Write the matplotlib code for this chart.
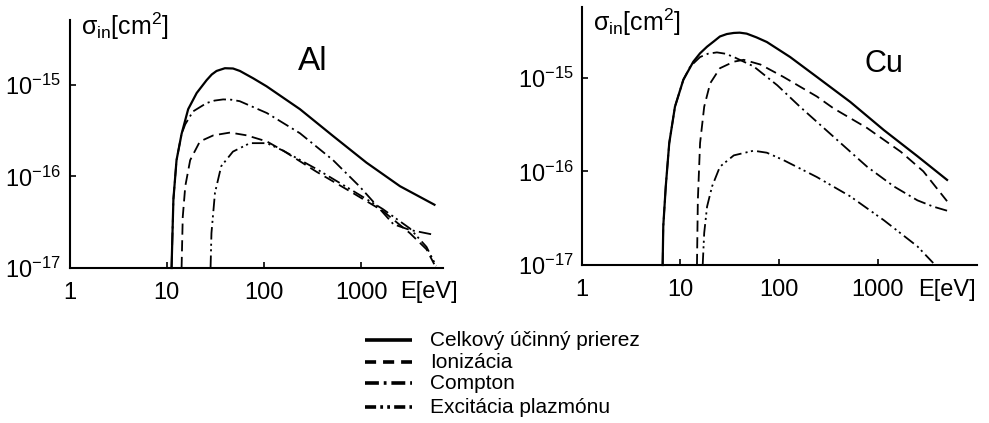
import numpy as np
import matplotlib
matplotlib.use("Agg")
import matplotlib.pyplot as plt
from matplotlib.lines import Line2D

plt.rcParams["font.family"] = ["Liberation Sans", "DejaVu Sans"]
plt.rcParams["mathtext.fontset"] = "custom"
plt.rcParams["mathtext.rm"] = "Liberation Sans"
plt.rcParams["mathtext.it"] = "Liberation Sans:italic"
plt.rcParams["mathtext.bf"] = "Liberation Sans:bold"
plt.rcParams["lines.scale_dashes"] = False

# ---------------- data: inelastic cross sections [cm^2] vs energy [eV] -------------
# Aluminium
al_total_E = [11.2, 11.7, 12.6, 14.2, 16.6, 20.3, 25.7, 29.0, 32.5, 39.6, 48.0, 56.5, 77.6, 106, 234,
              513, 1130, 2500, 5650]
al_total_s = [1.0e-17, 5.6e-17, 1.5e-16, 2.9e-16, 5.4e-16, 8.1e-16, 1.12e-15, 1.29e-15, 1.41e-15,
              1.51e-15, 1.50e-15, 1.41e-15, 1.17e-15, 9.6e-16, 5.4e-16, 2.75e-16, 1.41e-16,
              7.8e-17, 4.9e-17]

al_ion_E = [14.2, 14.6, 15.5, 17.4, 21.9, 30.2, 44.7, 66.1, 107, 158, 347, 759, 1660, 3160, 4680, 5620]
al_ion_s = [1.0e-17, 3.6e-17, 7.8e-17, 1.5e-16, 2.4e-16, 2.8e-16, 3.0e-16, 2.8e-16, 2.4e-16,
            1.9e-16, 1.12e-16, 6.9e-17, 4.2e-17, 2.4e-17, 1.6e-17, 1.1e-17]

al_compton_E = [11.2, 11.7, 12.6, 14.2, 15.5, 18.6, 25.7, 31.0, 38.0, 46.0, 56.2, 107, 234, 513, 955,
                1550, 2140, 3160, 5620]
al_compton_s = [1.0e-17, 5.6e-17, 1.5e-16, 2.9e-16, 3.7e-16, 5.1e-16, 6.3e-16, 6.7e-16, 6.9e-16,
                6.85e-16, 6.6e-16, 4.9e-16, 2.95e-16, 1.5e-16, 7.8e-17, 4.4e-17, 3.0e-17, 2.6e-17,
                2.3e-17]

al_plasmon_E = [28.2, 28.8, 31.3, 36.3, 47.9, 71.6, 107, 158, 347, 759, 1660, 3160, 4680, 5890]
al_plasmon_s = [1.0e-17, 2.4e-17, 6.6e-17, 1.29e-16, 1.86e-16, 2.3e-16, 2.3e-16, 1.9e-16, 1.2e-16,
                7.3e-17, 4.4e-17, 2.7e-17, 1.7e-17, 1.05e-17]

# Copper
cu_total_E = [6.6, 6.7, 7.1, 7.7, 8.8, 10.7, 13.5, 15.8, 18.6, 21.9, 25.1, 29.5, 34.7, 39.8, 46.8,
              58.9, 75.0, 129, 240, 525, 1150, 2510, 5010]
cu_total_s = [1.0e-17, 2.6e-17, 6.9e-17, 2.0e-16, 4.9e-16, 9.5e-16, 1.48e-15, 1.82e-15, 2.14e-15,
              2.45e-15, 2.75e-15, 2.92e-15, 3.0e-15, 3.02e-15, 2.95e-15, 2.69e-15, 2.4e-15,
              1.66e-15, 1.02e-15, 5.5e-16, 2.75e-16, 1.45e-16, 8.1e-17]

cu_ion_E = [14.7, 15.0, 15.8, 17.4, 20.0, 25.1, 34.7, 43.7, 64.6, 110, 240, 355, 776, 1700, 2880, 5010]
cu_ion_s = [1.0e-17, 4.9e-17, 2.0e-16, 4.9e-16, 8.7e-16, 1.26e-15, 1.48e-15, 1.55e-15, 1.38e-15,
            1.02e-15, 6.3e-16, 4.7e-16, 2.9e-16, 1.62e-16, 1.0e-16, 4.8e-17]

cu_compton_E = [6.6, 6.7, 7.1, 7.7, 8.8, 10.7, 12.6, 15.8, 19.0, 23.4, 28.5, 34.7, 55.0, 95.5, 162,
                355, 776, 1450, 2510, 3630, 5010]
cu_compton_s = [1.0e-17, 2.6e-17, 6.9e-17, 2.0e-16, 4.9e-16, 9.5e-16, 1.32e-15, 1.66e-15, 1.80e-15,
                1.86e-15, 1.80e-15, 1.66e-15, 1.32e-15, 8.3e-16, 4.9e-16, 2.34e-16, 1.12e-16,
                6.9e-17, 4.9e-17, 4.2e-17, 3.8e-17]

cu_plasmon_E = [16.8, 17.4, 18.6, 20.9, 25.1, 34.7, 55.0, 75.0, 110, 240, 525, 1150, 2510, 3630]
cu_plasmon_s = [1.0e-17, 2.2e-17, 4.2e-17, 6.9e-17, 1.12e-16, 1.48e-16, 1.66e-16, 1.58e-16, 1.32e-16,
                8.7e-17, 5.4e-17, 3.0e-17, 1.58e-17, 1.05e-17]

x_ticks = [1, 10, 100, 1000]
x_tick_labels = ["1", "10", "100", "1000"]
y_ticks = [1e-17, 1e-16, 1e-15]
y_tick_labels = [r"$\mathregular{10^{-17}}$", r"$\mathregular{10^{-16}}$", r"$\mathregular{10^{-15}}$"]

legend_labels = ["Celkový účinný prierez", "Ionizácia", "Compton", "Excitácia plazmónu"]

# ---------------- styles ----------------
W, H = 989, 423
plot_dashes = ["-", (0, (8, 4)), (0, (9, 3, 1.5, 3)), (0, (9, 3, 1.5, 2.5, 1.5, 3))]
plot_widths = [1.6, 1.3, 1.3, 1.3]
legend_dashes = ["-", (0, (8, 5)), (0, (10, 3.5, 2, 3.5)), (0, (8, 3, 2, 3, 2, 3))]

fig = plt.figure(figsize=(W / 100, H / 100), dpi=100)


def px_rect(left, top, right, bottom):
    return [left / W, 1 - bottom / H, (right - left) / W, (bottom - top) / H]


def panel(rect, xmax, ytop, series, name, name_xy, name_size, sig_xy, e_xy):
    ax = fig.add_axes(px_rect(*rect))
    ax.set_xscale("log")
    ax.set_yscale("log")
    ax.set_xlim(1, xmax)
    ax.set_ylim(1e-17, ytop)
    for (E, s), ls, lw in zip(series, plot_dashes, plot_widths):
        ax.plot(E, s, color="black", lw=lw, linestyle=ls, clip_on=False)
    for side in ("top", "right"):
        ax.spines[side].set_visible(False)
    for side in ("left", "bottom"):
        ax.spines[side].set_linewidth(1.5)
    ax.minorticks_off()
    ax.set_xticks(x_ticks, x_tick_labels)
    ax.set_yticks(y_ticks, y_tick_labels)
    ax.tick_params(axis="both", direction="in", length=4, width=1.2, labelsize=17)
    ax.tick_params(axis="x", pad=10)
    ax.tick_params(axis="y", pad=6)
    fig.text(name_xy[0] / W, 1 - name_xy[1] / H, name, fontsize=name_size,
             ha="left", va="center")
    fig.text(sig_xy[0] / W, 1 - sig_xy[1] / H,
             r"$\mathregular{σ_{in}[cm^{2}]}$", fontsize=18, ha="left", va="center")
    fig.text(e_xy[0] / W, 1 - e_xy[1] / H, "E[eV]", fontsize=17, ha="left", va="center")
    return ax


panel((69.5, 20, 443, 268), 10 ** 3.84, 10 ** -14.295,
      [(al_total_E, al_total_s), (al_ion_E, al_ion_s),
       (al_compton_E, al_compton_s), (al_plasmon_E, al_plasmon_s)],
      "Al", (298, 61), 24, (81, 26), (400, 292))

panel((581.7, 7, 976.7, 265), 10 ** 4.0, 10 ** -14.246,
      [(cu_total_E, cu_total_s), (cu_ion_E, cu_ion_s),
       (cu_compton_E, cu_compton_s), (cu_plasmon_E, cu_plasmon_s)],
      "Cu", (865, 64), 22, (593, 22), (918, 290))

# legend key drawn in figure pixels
legend_rows = [340, 362, 383, 407]
for label, ls, y in zip(legend_labels, legend_dashes, legend_rows):
    fig.add_artist(Line2D([365 / W, 412 / W], [1 - y / H, 1 - y / H], color="black",
                          lw=2.6, linestyle=ls, solid_capstyle="butt", dash_capstyle="butt"))
    fig.text(430 / W, 1 - y / H, label, fontsize=15, ha="left", va="center")

fig.savefig("out.png", dpi=100)
